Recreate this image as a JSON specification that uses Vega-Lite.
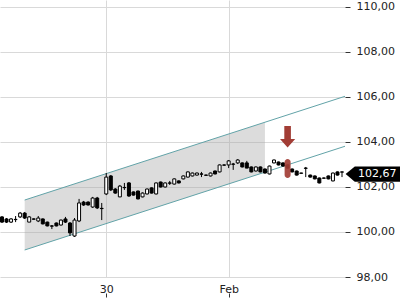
{
  "$schema": "https://vega.github.io/schema/vega-lite/v6.json",
  "width": 345,
  "height": 277,
  "autosize": {"type": "none"},
  "padding": {"left": 0, "top": 0, "right": 55, "bottom": 23},
  "background": "white",
  "config": {
    "view": {"stroke": null},
    "locale": {"number": {"decimal": ",", "thousands": ".", "grouping": [3], "currency": ["", " €"]}},
    "axis": {"labelFont": "DejaVu Sans", "labelFontSize": 11, "labelColor": "#222222", "gridColor": "#d9d9d9", "gridWidth": 1, "tickColor": "#333333", "domain": false}
  },
  "datasets": {
    "candles": [
      {"i":0,"o":100.67,"h":100.71,"l":100.40,"c":100.44},
      {"i":1,"o":100.58,"h":100.62,"l":100.40,"c":100.44},
      {"i":2,"o":100.44,"h":100.62,"l":100.40,"c":100.58},
      {"i":3,"o":100.56,"h":100.71,"l":100.44,"c":100.55},
      {"i":4,"o":100.67,"h":100.89,"l":100.62,"c":100.84},
      {"i":5,"o":100.84,"h":100.89,"l":100.58,"c":100.62},
      {"i":6,"o":100.44,"h":100.71,"l":100.44,"c":100.67},
      {"i":7,"o":100.58,"h":100.60,"l":100.55,"c":100.57},
      {"i":8,"o":100.49,"h":100.71,"l":100.44,"c":100.62},
      {"i":9,"o":100.58,"h":100.60,"l":100.34,"c":100.36},
      {"i":10,"o":100.44,"h":100.46,"l":100.25,"c":100.27},
      {"i":11,"o":100.27,"h":100.31,"l":100.13,"c":100.26},
      {"i":12,"o":100.40,"h":100.42,"l":100.25,"c":100.27},
      {"i":13,"o":100.31,"h":100.55,"l":100.29,"c":100.53},
      {"i":14,"o":100.58,"h":100.67,"l":100.40,"c":100.44},
      {"i":15,"o":100.40,"h":100.44,"l":99.82,"c":99.96},
      {"i":16,"o":99.82,"h":100.62,"l":99.78,"c":100.53},
      {"i":17,"o":100.49,"h":101.47,"l":100.44,"c":101.29},
      {"i":18,"o":101.33,"h":101.38,"l":101.16,"c":101.20},
      {"i":19,"o":101.33,"h":101.36,"l":101.18,"c":101.20},
      {"i":20,"o":101.11,"h":101.56,"l":101.07,"c":101.51},
      {"i":21,"o":101.51,"h":101.56,"l":101.02,"c":101.07},
      {"i":22,"o":101.05,"h":101.29,"l":100.53,"c":101.04},
      {"i":23,"o":101.69,"h":102.62,"l":101.64,"c":102.44},
      {"i":24,"o":102.49,"h":102.53,"l":101.82,"c":101.87},
      {"i":25,"o":101.91,"h":101.95,"l":101.70,"c":101.73},
      {"i":26,"o":101.56,"h":102.09,"l":101.55,"c":102.04},
      {"i":27,"o":101.98,"h":102.18,"l":101.87,"c":101.97},
      {"i":28,"o":102.18,"h":102.22,"l":101.56,"c":101.60},
      {"i":29,"o":101.78,"h":101.80,"l":101.62,"c":101.64},
      {"i":30,"o":101.82,"h":101.84,"l":101.45,"c":101.47},
      {"i":31,"o":101.56,"h":101.76,"l":101.54,"c":101.73},
      {"i":32,"o":101.69,"h":101.93,"l":101.67,"c":101.91},
      {"i":33,"o":101.96,"h":101.98,"l":101.71,"c":101.73},
      {"i":34,"o":101.69,"h":102.20,"l":101.67,"c":102.18},
      {"i":35,"o":102.22,"h":102.24,"l":101.98,"c":102.00},
      {"i":36,"o":102.00,"h":102.20,"l":101.98,"c":102.18},
      {"i":37,"o":102.18,"h":102.27,"l":102.09,"c":102.17},
      {"i":38,"o":102.13,"h":102.38,"l":102.11,"c":102.36},
      {"i":39,"o":102.27,"h":102.29,"l":102.16,"c":102.18},
      {"i":40,"o":102.36,"h":102.51,"l":102.34,"c":102.49},
      {"i":41,"o":102.44,"h":102.69,"l":102.42,"c":102.67},
      {"i":42,"o":102.49,"h":102.64,"l":102.47,"c":102.62},
      {"i":43,"o":102.53,"h":102.64,"l":102.51,"c":102.62},
      {"i":44,"o":102.58,"h":102.67,"l":102.44,"c":102.57},
      {"i":45,"o":102.53,"h":102.55,"l":102.50,"c":102.52},
      {"i":46,"o":102.49,"h":102.64,"l":102.47,"c":102.62},
      {"i":47,"o":102.71,"h":102.73,"l":102.56,"c":102.58},
      {"i":48,"o":102.67,"h":103.00,"l":102.65,"c":102.98},
      {"i":49,"o":102.98,"h":103.00,"l":102.95,"c":102.97},
      {"i":50,"o":102.98,"h":103.20,"l":102.84,"c":103.16},
      {"i":51,"o":103.02,"h":103.07,"l":102.76,"c":103.01},
      {"i":52,"o":103.07,"h":103.24,"l":103.02,"c":103.20},
      {"i":53,"o":103.07,"h":103.09,"l":102.87,"c":102.89},
      {"i":54,"o":103.07,"h":103.16,"l":102.84,"c":102.84},
      {"i":55,"o":102.89,"h":102.91,"l":102.65,"c":102.67},
      {"i":56,"o":102.71,"h":102.91,"l":102.69,"c":102.89},
      {"i":57,"o":102.89,"h":102.91,"l":102.65,"c":102.67},
      {"i":58,"o":102.80,"h":102.82,"l":102.60,"c":102.62},
      {"i":59,"o":102.58,"h":102.95,"l":102.56,"c":102.93},
      {"i":60,"o":103.07,"h":103.22,"l":103.05,"c":103.20},
      {"i":61,"o":103.11,"h":103.13,"l":102.96,"c":102.98},
      {"i":62,"o":103.07,"h":103.09,"l":102.91,"c":102.93},
      {"i":63,"o":102.98,"h":103.00,"l":102.82,"c":102.84},
      {"i":64,"o":102.80,"h":102.82,"l":102.65,"c":102.67},
      {"i":65,"o":102.71,"h":102.73,"l":102.51,"c":102.53},
      {"i":66,"o":102.62,"h":102.63,"l":102.60,"c":102.61},
      {"i":67,"o":102.84,"h":102.89,"l":102.44,"c":102.83},
      {"i":68,"o":102.53,"h":102.55,"l":102.42,"c":102.44},
      {"i":69,"o":102.49,"h":102.51,"l":102.34,"c":102.36},
      {"i":70,"o":102.40,"h":102.42,"l":102.16,"c":102.18},
      {"i":71,"o":102.40,"h":102.42,"l":102.37,"c":102.39},
      {"i":72,"o":102.49,"h":102.51,"l":102.34,"c":102.36},
      {"i":73,"o":102.27,"h":102.64,"l":102.25,"c":102.62},
      {"i":74,"o":102.67,"h":102.69,"l":102.51,"c":102.53},
      {"i":75,"o":102.66,"h":102.69,"l":102.44,"c":102.67}
    ],
    "channelFill": [
      {"i":5,"upper":101.42,"lower":99.20},
      {"i":58,"upper":104.88,"lower":102.66}
    ],
    "channelLines": [
      {"i1":5,"v1":101.42,"i2":75.66,"v2":106.03},
      {"i1":5,"v1":99.20,"i2":75.66,"v2":103.81}
    ],
    "signal": [
      {"i":63,"top":103.24,"bottom":102.40,"arrow":104.22}
    ]
  },
  "layer": [
    {
      "data": {"name": "channelFill"},
      "mark": {"type": "area", "color": "#a8a8a8", "opacity": 0.4},
      "encoding": {
        "x": {"field": "i", "type": "quantitative", "title": null,
              "scale": {"domain": [-0.44, 75.66], "nice": false, "zero": false, "padding": 0},
              "axis": {"orient": "bottom", "values": [23, 50], "grid": true, "offset": 20, "tickSize": -4, "labelPadding": -10,
                       "labelExpr": "datum.value == 23 ? '30' : 'Feb'"}},
        "y": {"field": "upper", "type": "quantitative", "title": null,
              "scale": {"domain": [98, 110.31], "nice": false, "zero": false},
              "axis": {"orient": "right", "values": [98, 100, 102, 104, 106, 108, 110], "grid": true, "tickSize": 5, "labelPadding": 6, "format": ",.2f"}},
        "y2": {"field": "lower"}
      }
    },
    {
      "data": {"name": "channelLines"},
      "mark": {"type": "rule", "color": "#62a3a8", "strokeWidth": 1},
      "encoding": {
        "x": {"field": "i1", "type": "quantitative", "title": null},
        "x2": {"field": "i2"},
        "y": {"field": "v1", "type": "quantitative", "title": null},
        "y2": {"field": "v2"}
      }
    },
    {
      "data": {"name": "candles"},
      "mark": {"type": "rule", "color": "#000000", "strokeWidth": 1},
      "encoding": {
        "x": {"field": "i", "type": "quantitative", "title": null},
        "y": {"field": "l", "type": "quantitative", "title": null},
        "y2": {"field": "h"}
      }
    },
    {
      "data": {"name": "candles"},
      "mark": {"type": "bar", "size": 3, "stroke": "#000000", "strokeWidth": 1},
      "encoding": {
        "x": {"field": "i", "type": "quantitative", "title": null},
        "y": {"field": "o", "type": "quantitative", "title": null},
        "y2": {"field": "c"},
        "fill": {"condition": {"test": "datum.c < datum.o", "value": "#000000"}, "value": "#ffffff"}
      }
    },
    {
      "data": {"name": "signal"},
      "mark": {"type": "bar", "size": 6, "cornerRadius": 3, "color": "#a23d35", "opacity": 0.92},
      "encoding": {
        "x": {"field": "i", "type": "quantitative", "title": null},
        "y": {"field": "top", "type": "quantitative", "title": null},
        "y2": {"field": "bottom"}
      }
    },
    {
      "data": {"name": "signal"},
      "mark": {"type": "point", "filled": true, "color": "#a23d35", "opacity": 1, "size": 4,
               "shape": "M-3.3,-11 L3.3,-11 L3.3,2 L7.6,2 L0,10.5 L-7.6,2 L-3.3,2 Z"},
      "encoding": {
        "x": {"field": "i", "type": "quantitative", "title": null},
        "y": {"field": "arrow", "type": "quantitative", "title": null}
      }
    },
    {
      "data": {"name": "candles"},
      "transform": [{"filter": "datum.i == 75"}],
      "mark": {"type": "point", "filled": true, "color": "#000000", "opacity": 1, "size": 4,
               "shape": "M3.6,2.2 L12.8,-5.4 L60,-5.4 L60,9.8 L12.8,9.8 Z"},
      "encoding": {
        "x": {"field": "i", "type": "quantitative", "title": null},
        "y": {"field": "c", "type": "quantitative", "title": null}
      }
    },
    {
      "data": {"name": "candles"},
      "transform": [{"filter": "datum.i == 75"}],
      "mark": {"type": "text", "color": "#ffffff", "font": "DejaVu Sans", "fontSize": 11, "align": "left", "baseline": "middle", "dx": 16, "dy": 2},
      "encoding": {
        "x": {"field": "i", "type": "quantitative", "title": null},
        "y": {"field": "c", "type": "quantitative", "title": null},
        "text": {"field": "c", "type": "quantitative", "format": ",.2f"}
      }
    }
  ]
}
